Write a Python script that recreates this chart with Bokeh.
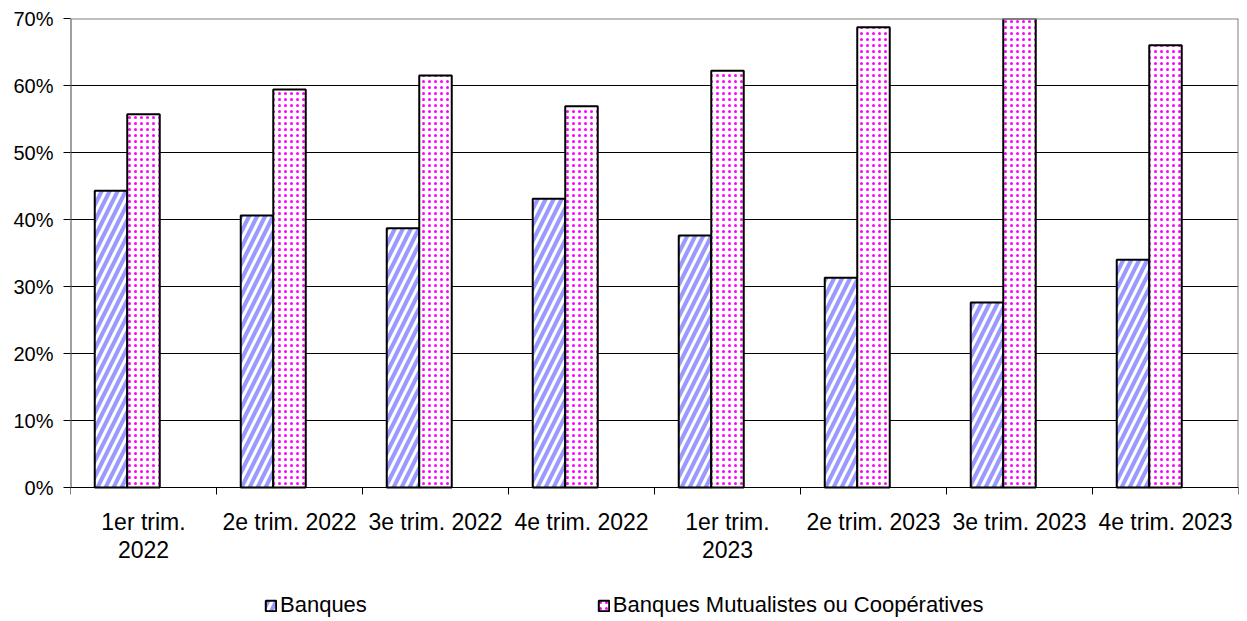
from bokeh.plotting import figure
from bokeh.models import (ColumnDataSource, FixedTicker, Legend, LegendItem, Range1d,
                          NumeralTickFormatter)
from bokeh.transform import dodge
from bokeh.embed import file_html
from bokeh.resources import INLINE

categories = ["1er trim. 2022", "2e trim. 2022", "3e trim. 2022", "4e trim. 2022",
              "1er trim. 2023", "2e trim. 2023", "3e trim. 2023", "4e trim. 2023"]
category_labels = ["1er trim.\n2022", "2e trim. 2022", "3e trim. 2022", "4e trim. 2022",
                   "1er trim.\n2023", "2e trim. 2023", "3e trim. 2023", "4e trim. 2023"]
banques = [0.443, 0.406, 0.387, 0.431, 0.376, 0.313, 0.276, 0.340]
mutualistes = [0.557, 0.594, 0.615, 0.569, 0.622, 0.687, 0.725, 0.660]
y_ticks = [0.0, 0.1, 0.2, 0.3, 0.4, 0.5, 0.6, 0.7]

FONT = "Liberation Sans"
n = len(categories)
centers = [i + 0.5 for i in range(n)]
bounds = [float(i) for i in range(n + 1)]
bw = 0.2226
y_top = y_ticks[-1]
# the frame extends below 0 so that the category labels and the legend sit inside it
y_bottom = -0.197

src = ColumnDataSource(dict(x=centers, cat=categories, banques=banques, mutualistes=mutualistes))

p = figure(width=1246, height=620, output_backend="svg", toolbar_location=None,
           x_range=Range1d(0, n), y_range=Range1d(y_bottom, y_top),
           min_border_left=70, min_border_right=8, min_border_top=18, min_border_bottom=1)

r1 = p.vbar(x=dodge("x", -bw, range=p.x_range), top="banques", width=bw, source=src,
            fill_color="white", hatch_pattern="/", hatch_color="#9999FF", hatch_weight=4,
            hatch_scale=16, line_color="black", line_width=2)
r2 = p.vbar(x="x", top="mutualistes", width=bw, source=src,
            fill_color="white", hatch_pattern="dot", hatch_color="#FF00FF", hatch_weight=2,
            hatch_scale=6, line_color="black", line_width=2)

# plot-area border: left axis line, grey top and right edges
p.segment(x0=[0, 0, n], y0=[0, y_top, 0], x1=[0, n, n], y1=[y_top, y_top, y_top],
          line_color=["#404040", "#808080", "#808080"], line_width=2)

p.outline_line_color = None
p.background_fill_color = "white"
p.border_fill_color = "white"

p.xgrid.visible = False
p.ygrid.grid_line_color = "black"
p.ygrid.grid_line_width = 1
p.ygrid.ticker = FixedTicker(ticks=y_ticks[:-1])

p.yaxis.ticker = FixedTicker(ticks=y_ticks)
p.yaxis.formatter = NumeralTickFormatter(format="0%")
p.yaxis.axis_line_color = None
p.yaxis.major_tick_out = 7
p.yaxis.major_tick_in = 0
p.yaxis.minor_tick_line_color = None
p.yaxis.major_label_text_font = FONT
p.yaxis.major_label_text_font_size = "20px"
p.yaxis.major_label_text_color = "black"
p.yaxis.major_label_standoff = 10

p.xaxis.fixed_location = 0
p.xaxis.ticker = FixedTicker(ticks=centers, minor_ticks=bounds)
p.xaxis.major_label_overrides = {c: lab for c, lab in zip(centers, category_labels)}
p.xaxis.axis_line_color = "black"
p.xaxis.axis_line_width = 1
p.xaxis.major_tick_line_color = None
p.xaxis.minor_tick_out = 7
p.xaxis.minor_tick_in = 0
p.xaxis.minor_tick_line_color = "black"
p.xaxis.major_label_text_font = FONT
p.xaxis.major_label_text_font_size = "23px"
p.xaxis.major_label_text_line_height = 1.1
p.xaxis.major_label_text_color = "black"
p.xaxis.major_label_standoff = 14

legend = Legend(items=[LegendItem(label="Banques", renderers=[r1]),
                       LegendItem(label="Banques Mutualistes ou Coopératives", renderers=[r2])],
                location=(194, 1), orientation="horizontal",
                glyph_width=13, glyph_height=13, label_standoff=3, spacing=230,
                label_text_font=FONT, label_text_font_size="22px", label_text_color="black",
                border_line_alpha=0, background_fill_alpha=0, padding=0, margin=0)
p.add_layout(legend, "center")

open("out.html", "w").write(file_html(p, INLINE))
